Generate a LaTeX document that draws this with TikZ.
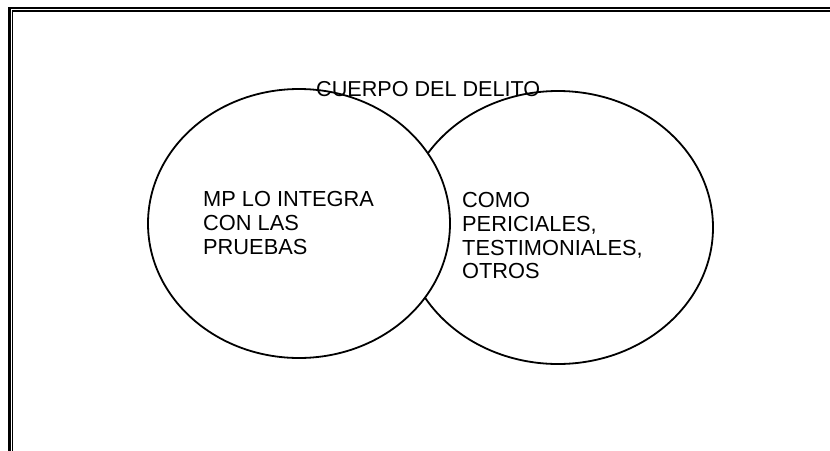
\documentclass[tikz,border=0pt]{standalone}
\usepackage{fontspec}
\setmainfont{Liberation Sans}
\begin{document}
\begin{tikzpicture}[x=1pt,y=-1pt,
  outerline/.style={line width=2.6pt},
  innerline/.style={line width=1.3pt},
  txt/.style={font=\fontsize{21.8}{23.7}\selectfont,inner sep=0pt,align=left,anchor=north west}]
\useasboundingbox (0,0) rectangle (830,450);
% frame
\draw[outerline] (9.3,452) -- (9.3,7.8) -- (832,7.8);
\draw[innerline] (12.6,452) -- (12.6,11) -- (832,11);
% circles
\draw[line width=1.8pt] (558,227.5) ellipse [x radius=155, y radius=136.5];
\draw[line width=1.8pt,fill=white] (299,223.5) ellipse [x radius=151, y radius=134.5];
% texts
\node[font=\fontsize{21.6}{24}\selectfont,inner sep=0pt,anchor=base west] (title) at (316,96) {CUERPO DEL DELITO};
\node[txt] (lt) at (203,191.3) {MP LO INTEGRA\\CON LAS\\PRUEBAS};
\node[txt] (rt) at (462,192.3) {COMO\\PERICIALES,\\TESTIMONIALES,\\OTROS};
\end{tikzpicture}
\end{document}
